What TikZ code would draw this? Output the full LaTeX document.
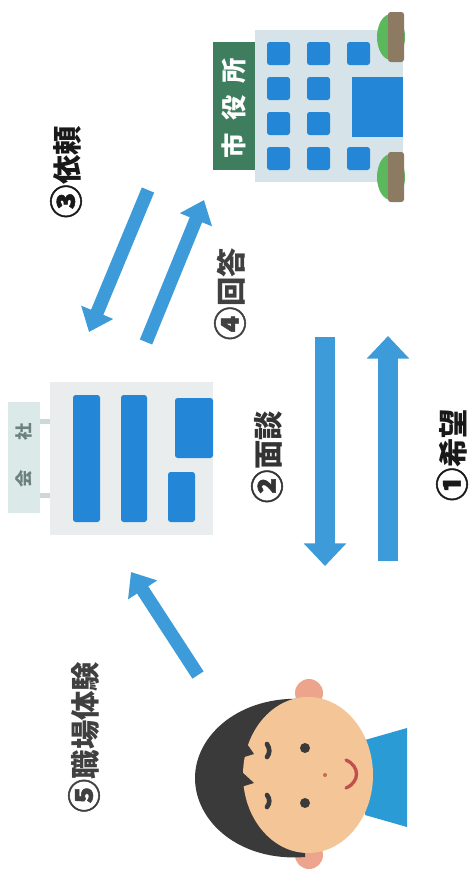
\documentclass[tikz,border=0pt]{standalone}
\usepackage{fontspec}
\usepackage{xcolor}
\newfontfamily\jpfont{Noto Sans CJK JP}
\newfontfamily\numfont{Noto Sans CJK JP}[FakeBold=1.5]
\usetikzlibrary{arrows.meta}

\definecolor{arrowblue}{RGB}{60,155,216}
\definecolor{winblue}{RGB}{36,134,214}
\definecolor{hallbody}{RGB}{214,228,234}
\definecolor{hallgreen}{RGB}{62,125,93}
\definecolor{trunk}{RGB}{140,122,98}
\definecolor{leaf}{RGB}{92,184,92}
\definecolor{cobody}{RGB}{233,237,237}
\definecolor{cosign}{RGB}{219,233,232}
\definecolor{skin}{RGB}{243,197,151}
\definecolor{earpink}{RGB}{237,164,140}
\definecolor{hair}{RGB}{58,58,58}
\definecolor{shirt}{RGB}{43,155,214}
\definecolor{mouthred}{RGB}{192,80,77}

% circled step number, a little larger than the kanji beside it
\newcommand{\stepnum}[1]{{\numfont\fontsize{25}{26}\selectfont #1}}

\tikzset{
  flow/.style={draw=arrowblue, line width=10pt, -{Triangle[width=25pt,length=16pt]}},
  bigflow/.style={draw=arrowblue, line width=15pt, -{Triangle[width=31pt,length=17pt]}},
  steplbl/.style={rotate=90, inner sep=0pt, font=\jpfont\bfseries\fontsize{22}{24}\selectfont},
  win/.style={fill=winblue, rounded corners=2pt},
}

\begin{document}
\begin{tikzpicture}[x=0.75pt,y=0.75pt,yscale=-1,xscale=1]
\path[use as bounding box] (0,0) rectangle (469,869);

%Shape: city hall body
\fill[hallbody] (255,30) rectangle (403,182);
%Shape: city hall sign
\fill[hallgreen] (213,42) rectangle (255,170);
\node[rotate=90, inner sep=0pt, text=white, font=\jpfont\bfseries\fontsize{19}{20}\selectfont] (hall) at (234,108) {市\hspace{9pt}役\hspace{9pt}所};
%Windows of the city hall
\foreach \x in {267,307}
  \foreach \y in {42,77,112,147}
    \fill[win] (\x,\y) rectangle ++(23,23);
\fill[win] (347,42) rectangle ++(23,23);
\fill[win] (347,147) rectangle ++(23,23);
%Shape: entrance
\fill[winblue] (352,77) rectangle (403,137);
%Bushes
\foreach \y in {37,177}{
  \fill[leaf] (391,\y) ellipse (14 and 23);
  \fill[trunk, rounded corners=2pt] (388,\y-25) rectangle (404,\y+25);
}

%Shape: company body
\fill[cobody] (50,382) rectangle (213,535);
%Sign posts and sign
\fill[cosign!85!gray] (40,419) rectangle (50,424);
\fill[cosign!85!gray] (40,493) rectangle (50,498);
\fill[cosign] (8,402) rectangle (40,513);
\node[rotate=90, inner sep=0pt, text=gray!85!teal, font=\jpfont\bfseries\fontsize{13}{14}\selectfont] (company) at (24,455) {会\hspace{22pt}社};
%Windows of the company
\fill[win] (73,395) rectangle (100,522);
\fill[win] (121,395) rectangle (147,522);
\fill[win] (175,398) rectangle (213,458);
\fill[win] (168,472) rectangle (195,522);

%Arrow end points
\coordinate (irai-s) at (148,190);
\coordinate (irai-e) at (89,332);
\coordinate (kaito-s) at (146,342);
\coordinate (kaito-e) at (204,200);
\coordinate (mensetsu-s) at (325,337);
\coordinate (mensetsu-e) at (325,566);
\coordinate (kibou-s) at (388,561);
\coordinate (kibou-e) at (388,336);
\coordinate (taiken-s) at (198,675);
\coordinate (taiken-e) at (131,572);

%Arrows
\draw[flow] (irai-s) -- (irai-e);
\draw[flow] (kaito-s) -- (kaito-e);
\draw[bigflow] (mensetsu-s) -- (mensetsu-e);
\draw[bigflow] (kibou-s) -- (kibou-e);
\draw[flow] (taiken-s) -- (taiken-e);

% Text Node
\node[steplbl, text=black!90] (irai) at (66,172) {\stepnum{③}依頼};
% Text Node
\node[steplbl, text=black!75] (kaito) at (230,294) {\stepnum{④}回答};
% Text Node
\node[steplbl, text=black!80] (mensetsu) at (267,457) {\stepnum{②}面談};
% Text Node
\node[steplbl, text=black!90] (kibou) at (452,455) {\stepnum{①}希望};
% Text Node
\node[steplbl, text=black!75] (taiken) at (84,737) {\stepnum{⑤}職場体験};

%Person: shirt, ears, hair, face
\fill[shirt] (365,740) -- (407,728) -- (407,827) -- (365,815) -- cycle;
\fill[earpink] (309,693) circle (14);
\fill[earpink] (309,855) circle (14);
\fill[hair] (305,699) .. controls (240,695) and (195,735) .. (195,778) .. controls (195,822) and (240,862) .. (305,857) -- cycle;
\fill[skin] (308,775) ellipse (65 and 78);
%Bangs
\fill[hair] (236,730) -- (243,738) -- (254,754) -- (241,758) -- (242,772) -- (254,783) -- (241,787) -- (244,812) -- (252,822) -- (236,824) -- cycle;
%Eyebrows and eyes
\draw[hair, line width=3.5pt, line cap=round] (267,744) .. controls (270,749) and (270,753) .. (267,757);
\draw[hair, line width=3.5pt, line cap=round] (267,795) .. controls (270,799) and (270,803) .. (267,807);
\fill[hair] (305,748) circle (5);
\fill[hair] (305,803) circle (5);
%Nose and mouth
\fill[mouthred!80!skin] (325,775) circle (2);
\draw[mouthred, line width=2.5pt, line cap=round] (346,760) .. controls (360,766) and (360,782) .. (346,788);

\end{tikzpicture}
\end{document}
